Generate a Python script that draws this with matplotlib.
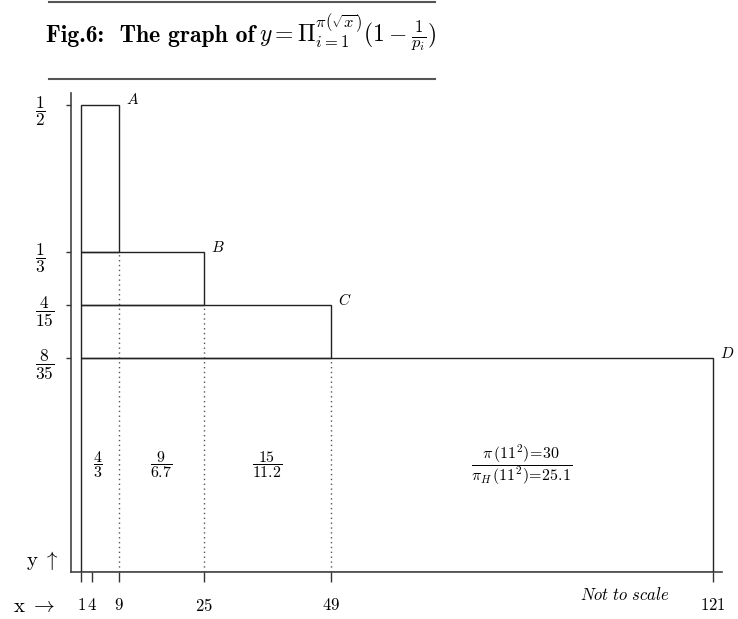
import numpy as np
import matplotlib
matplotlib.use('Agg')
import matplotlib.pyplot as plt
from matplotlib.patches import Rectangle
from matplotlib.lines import Line2D

plt.rcParams['mathtext.fontset'] = 'cm'
plt.rcParams['font.family'] = ['cmr10', 'DejaVu Serif']
plt.rcParams['axes.unicode_minus'] = False
plt.rcParams['axes.formatter.use_mathtext'] = True

# ---- data ----
x_bounds = [1, 9, 25, 49, 121]
x_ticks = [1, 4, 9, 25, 49, 121]
x_tick_labels = ['$1$', '$4$', '$9$', '$25$', '$49$', '$121$']
y_levels = [1/2, 1/3, 4/15, 8/35]
y_tick_labels = [r'$\dfrac{1}{2}$', r'$\dfrac{1}{3}$', r'$\dfrac{4}{15}$', r'$\dfrac{8}{35}$']
corner_labels = ['$A$', '$B$', '$C$', '$D$']
ratio_labels = [r'$\dfrac{4}{3}$', r'$\dfrac{9}{6.7}$', r'$\dfrac{15}{11.2}$',
                r'$\dfrac{\pi\,(11^2)\!=\!30}{\pi_H\,(11^2)\!=\!25.1}$']
title_words = 'Fig.6:  The graph of'
title_formula = r'$y = \Pi_{i=1}^{\pi(\sqrt{x})}(1 - \frac{1}{p_i})$'

W, H = 738, 619
fig = plt.figure(figsize=(W/100, H/100), dpi=100)

# axes placed in pixel layout
L, R, T, B = 71, 722, 93, 572
ax = fig.add_axes([L/W, (H-B)/H, (R-L)/W, (B-T)/H])

# "not to scale" axes: piecewise-linear scales
xk = [0, 1, 4, 1000]
xp = [0, 1.9, 4, 1000]
ax.set_xscale('function', functions=(lambda v: np.interp(v, xk, xp),
                                      lambda v: np.interp(v, xp, xk)))
yk = [0, 8/35, 4/15, 1/3, 1/2, 1.0]
yp = [0, 214, 267, 320, 467, 467 + 0.5*882]
yf = lambda v: np.interp(v, yk, yp)
yi = lambda v: np.interp(v, yp, yk)
ax.set_yscale('function', functions=(yf, yi))
ax.set_xlim(0, 122.7)
ax.set_ylim(0, float(yi(479)))

lc = '#222222'
# rectangles
for i in range(4):
    left = x_bounds[0]
    right = x_bounds[i+1]
    top = y_levels[i]
    bottom = y_levels[i+1] if i < 3 else 0
    ax.add_patch(Rectangle((left, bottom), right-left, top-bottom,
                           fill=False, edgecolor=lc, lw=1.0, zorder=3))
    ax.annotate(corner_labels[i], (right, top), xytext=(7, 5),
                textcoords='offset pixels', ha='left', va='center', fontsize=11)

# dotted verticals
for i in range(3):
    ax.plot([x_bounds[i+1], x_bounds[i+1]], [0, y_levels[i+1]],
            ls=(0, (1, 2.5)), color='#555555', lw=1.0, zorder=2)

# ratio labels
for i in range(4):
    xm = (x_bounds[i] + x_bounds[i+1]) / 2
    ax.text(xm, y_levels[3] / 2, ratio_labels[i], ha='center', va='center', fontsize=11.5)

# spines and ticks
for s in ['top', 'right']:
    ax.spines[s].set_visible(False)
for s in ['left', 'bottom']:
    ax.spines[s].set_color('#444444')
    ax.spines[s].set_linewidth(1.2)

ax.set_xticks(x_ticks)
ax.set_xticklabels(x_tick_labels, fontsize=12)
ax.tick_params(axis='x', direction='out', length=7.2, width=1.0, color='#333333', pad=11)
ax.set_yticks(y_levels)
ax.set_yticklabels(y_tick_labels, fontsize=12.5, ha='left')
ax.tick_params(axis='y', direction='out', length=3.6, width=1.0, color='#333333', pad=22.3)
ax.minorticks_off()

# axis direction texts
fig.text(13/W, 1 - 607/H, r'$\mathrm{x}\ \rightarrow$', fontsize=15, ha='left', va='center')
fig.text(26/W, 1 - 561/H, r'$\mathrm{y}\ \uparrow$', fontsize=15, ha='left', va='center')
fig.text(625/W, 1 - 594/H, r'$Not\ to\ scale$', fontsize=12, ha='center', va='center')

# title (bold words + formula) centred between the rules
ty = 1 - 42/H
t1 = fig.text(0, ty, title_words, fontfamily='cmb10', fontsize=17, ha='left', va='baseline')
t2 = fig.text(0, ty, title_formula, fontsize=17, ha='left', va='baseline')
r = fig.canvas.get_renderer()
w1 = t1.get_window_extent(r).width
w2 = t2.get_window_extent(r).width
gap = 5
x0 = 241 - (w1 + gap + w2) / 2
t1.set_x(x0 / W)
t2.set_x((x0 + w1 + gap) / W)
fig.add_artist(Line2D([49/W, 435/W], [1 - 2/H, 1 - 2/H], color='#555555', lw=1.5))
fig.add_artist(Line2D([49/W, 435/W], [1 - 79/H, 1 - 79/H], color='#555555', lw=1.5))

fig.savefig('out.png', dpi=100)
